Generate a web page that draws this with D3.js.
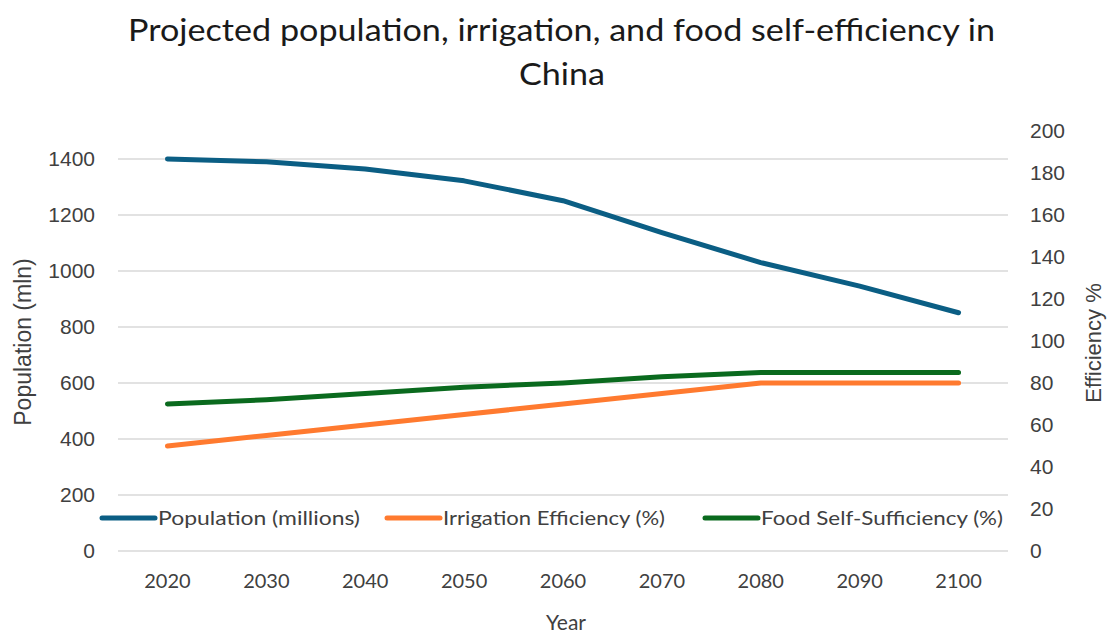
<!DOCTYPE html>
<html>
<head>
<meta charset="utf-8">
<script src="https://cdn.jsdelivr.net/npm/d3@7"></script>
<style>
  body { margin: 0; background: #fff; }
  svg { display: block; }
</style>
</head>
<body>
<div id="chart"></div>
<script>
var years = ["2020", "2030", "2040", "2050", "2060", "2070", "2080", "2090", "2100"];
var population = [1400, 1390, 1364, 1322, 1251, 1137, 1030, 946, 851];
var irrigation = [50, 55, 60, 65, 70, 75, 80, 80, 80];
var foodSelf = [70, 72, 75, 78, 80, 83, 85, 85, 85];
var leftTicks = [0, 200, 400, 600, 800, 1000, 1200, 1400];
var rightTicks = [0, 20, 40, 60, 80, 100, 120, 140, 160, 180, 200];

var width = 1108, height = 633;
var margin = {top: 131, right: 100, bottom: 82, left: 118};

var mainFont = "Lato, 'Open Sans', sans-serif";
var tickFont = "'Liberation Sans', Arial, sans-serif";

var svg = d3.select("#chart").append("svg")
  .attr("width", width)
  .attr("height", height);

var x = d3.scaleBand()
  .domain(years)
  .range([margin.left, width - margin.right]);

var yLeft = d3.scaleLinear()
  .domain([0, 1500])
  .range([height - margin.bottom, margin.top]);

var yRight = d3.scaleLinear()
  .domain([0, 200])
  .range([height - margin.bottom, margin.top]);

// gridlines (left axis)
svg.append("g")
  .selectAll("line")
  .data(leftTicks)
  .join("line")
    .attr("x1", margin.left)
    .attr("x2", width - margin.right)
    .attr("y1", function(d) { return yLeft(d); })
    .attr("y2", function(d) { return yLeft(d); })
    .attr("stroke", "#d9d9d9")
    .attr("stroke-width", 1.5);

// left axis
var leftAxis = svg.append("g")
  .attr("transform", "translate(" + (margin.left - 23) + ",0)")
  .call(d3.axisLeft(yLeft).tickValues(leftTicks).tickFormat(d3.format("d")).tickSize(0).tickPadding(0));
leftAxis.select(".domain").remove();
leftAxis.attr("font-family", tickFont).attr("font-size", 21);
leftAxis.selectAll("text").attr("fill", "#404040");

// right axis
var rightAxis = svg.append("g")
  .attr("transform", "translate(" + (width - margin.right + 22) + ",0)")
  .call(d3.axisRight(yRight).tickValues(rightTicks).tickFormat(d3.format("d")).tickSize(0).tickPadding(0));
rightAxis.select(".domain").remove();
rightAxis.attr("font-family", tickFont).attr("font-size", 21);
rightAxis.selectAll("text").attr("fill", "#404040");

// x axis
var xAxis = svg.append("g")
  .attr("transform", "translate(0," + (height - margin.bottom + 19) + ")")
  .call(d3.axisBottom(x).tickSize(0).tickPadding(0));
xAxis.select(".domain").remove();
xAxis.attr("font-family", mainFont).attr("font-size", 20);
xAxis.selectAll("text")
  .attr("dy", "0.9em")
  .attr("fill", "#404040");

// series
var series = [
  {name: "Population (millions)", values: population, scale: yLeft, color: "#0b5e84"},
  {name: "Irrigation Efficiency (%)", values: irrigation, scale: yRight, color: "#ff7a2f"},
  {name: "Food Self-Sufficiency (%)", values: foodSelf, scale: yRight, color: "#0a6a1e"}
];

series.forEach(function(s) {
  var line = d3.line()
    .x(function(d, i) { return x(years[i]) + x.bandwidth() / 2; })
    .y(function(d) { return s.scale(d); });
  svg.append("path")
    .datum(s.values)
    .attr("fill", "none")
    .attr("stroke", s.color)
    .attr("stroke-width", 5)
    .attr("stroke-linecap", "round")
    .attr("stroke-linejoin", "round")
    .attr("d", line);
});

// legend
var legendX = [100, 385, 703];
var legendW = [202, 222, 242];
var legend = svg.append("g").attr("class", "legend");
legend.selectAll("g")
  .data(series)
  .join("g")
  .each(function(d, i) {
    var g = d3.select(this);
    g.append("line")
      .attr("x1", legendX[i] + 2)
      .attr("x2", legendX[i] + 55)
      .attr("y1", 518)
      .attr("y2", 518)
      .attr("stroke", d.color)
      .attr("stroke-width", 5)
      .attr("stroke-linecap", "round");
    g.append("text")
      .attr("x", legendX[i] + 58)
      .attr("y", 525)
      .attr("font-family", mainFont)
      .attr("font-size", 20)
      .attr("textLength", legendW[i])
      .attr("lengthAdjust", "spacingAndGlyphs")
      .attr("fill", "#404040")
      .text(d.name);
  });

// titles
svg.append("text")
  .attr("x", 128)
  .attr("y", 41)
  .attr("font-family", mainFont)
  .attr("font-size", 31)
  .attr("textLength", 867)
  .attr("lengthAdjust", "spacingAndGlyphs")
  .attr("fill", "#1a1a1a")
  .text("Projected population, irrigation, and food self-efficiency in");

svg.append("text")
  .attr("x", 519)
  .attr("y", 85)
  .attr("font-family", mainFont)
  .attr("font-size", 31)
  .attr("textLength", 86)
  .attr("lengthAdjust", "spacingAndGlyphs")
  .attr("fill", "#1a1a1a")
  .text("China");

svg.append("text")
  .attr("x", 566)
  .attr("y", 630)
  .attr("text-anchor", "middle")
  .attr("font-family", mainFont)
  .attr("font-size", 21)
  .attr("fill", "#404040")
  .text("Year");

svg.append("text")
  .attr("transform", "translate(31,342) rotate(-90)")
  .attr("text-anchor", "middle")
  .attr("font-family", tickFont)
  .attr("font-size", 23)
  .attr("fill", "#404040")
  .text("Population (mln)");

svg.append("text")
  .attr("transform", "translate(1101,343) rotate(-90)")
  .attr("text-anchor", "middle")
  .attr("font-family", tickFont)
  .attr("font-size", 22)
  .attr("fill", "#404040")
  .text("Efficiency %");
</script>
</body>
</html>
